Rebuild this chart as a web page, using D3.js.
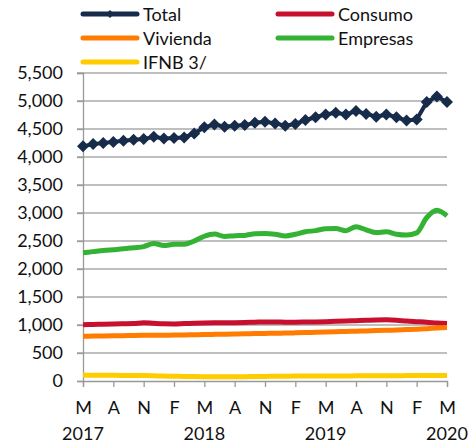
<!DOCTYPE html>
<html>
<head>
<meta charset="utf-8">
<script src="https://cdn.jsdelivr.net/npm/d3@7"></script>
<style>
  body { margin: 0; background: #fff; }
  svg { display: block; font-family: Lato, "Open Sans", sans-serif; }
</style>
</head>
<body>
<div id="chart"></div>
<script>
// months May 2017 .. May 2020
const months = d3.range(37);
const tickLabels = ['M', 'A', 'N', 'F', 'M', 'A', 'N', 'F', 'M', 'A', 'N', 'F', 'M'];
const yearLabels = [
    { idx: 0, label: '2017' },
    { idx: 12, label: '2018' },
    { idx: 24, label: '2019' },
    { idx: 36, label: '2020' }
];

const total = [4190, 4230, 4250, 4270, 4290, 4310, 4320, 4360, 4330, 4340, 4350, 4420, 4530,
    4580, 4540, 4560, 4570, 4610, 4630, 4600, 4560, 4590, 4660, 4710, 4760,
    4790, 4760, 4820, 4770, 4720, 4760, 4710, 4650, 4670, 4980, 5080, 4980];
const consumo = [1005, 1010, 1015, 1020, 1022, 1025, 1040, 1030, 1022, 1020, 1025, 1030, 1035,
    1038, 1040, 1042, 1045, 1050, 1055, 1055, 1050, 1050, 1052, 1055, 1060,
    1065, 1070, 1078, 1085, 1090, 1092, 1085, 1070, 1060, 1050, 1035, 1025];
const vivienda = [800, 802, 805, 808, 810, 812, 815, 817, 818, 820, 822, 825, 830,
    833, 836, 840, 843, 846, 850, 853, 856, 860, 865, 870, 875,
    880, 885, 890, 895, 900, 905, 910, 918, 925, 935, 945, 955];
const empresas = [2290, 2310, 2330, 2345, 2360, 2380, 2400, 2455, 2420, 2440, 2440, 2500, 2585,
    2625, 2580, 2595, 2600, 2630, 2635, 2620, 2590, 2620, 2665, 2685, 2720,
    2725, 2685, 2755, 2700, 2650, 2665, 2620, 2605, 2645, 2920, 3050, 2950];
const ifnb = [105, 104, 103, 102, 100, 98, 96, 92, 88, 85, 82, 80, 78,
    76, 75, 76, 78, 80, 82, 84, 86, 88, 88, 88, 90,
    90, 90, 92, 92, 92, 94, 95, 96, 96, 98, 98, 98];

const seriesNames = ['Total', 'Consumo', 'Vivienda', 'Empresas', 'IFNB 3/'];
const seriesColors = ['#172b4a', '#c8102e', '#ff7c00', '#34b233', '#ffcc00'];

const width = 476, height = 446;
const svg = d3.select('#chart').append('svg')
    .attr('width', width)
    .attr('height', height);

const x = d3.scaleLinear().domain([0, 36]).range([83, 447]);
const y = d3.scaleLinear().domain([0, 5500]).range([381, 73]);

// gridlines
svg.append('g')
    .selectAll('line')
    .data(d3.range(500, 5501, 500))
    .enter().append('line')
    .attr('x1', 77).attr('x2', 447)
    .attr('y1', d => y(d)).attr('y2', d => y(d))
    .attr('stroke', '#aaaaaa')
    .attr('stroke-width', 1.3);

// y axis
const yAxis = svg.append('g')
    .attr('transform', 'translate(83,0)')
    .call(d3.axisLeft(y).tickValues(d3.range(0, 5501, 500)).tickSize(6).tickPadding(14)
        .tickFormat(d3.format(',')));
yAxis.select('.domain').attr('stroke', '#999').attr('stroke-width', 1.3);
yAxis.selectAll('.tick line').attr('stroke', '#999').attr('stroke-width', 1.3);
yAxis.selectAll('.tick text').attr('font-size', 18).attr('fill', '#111')
    .attr('font-family', 'Lato, sans-serif');

// x axis
const xAxis = svg.append('g')
    .attr('transform', `translate(0,${y(0)})`)
    .call(d3.axisBottom(x).tickValues(d3.range(0, 37, 3)).tickSize(6)
        .tickFormat((d, i) => tickLabels[i]).tickPadding(14));
xAxis.select('.domain').attr('stroke', '#999').attr('stroke-width', 1.3);
xAxis.selectAll('.tick line').attr('stroke', '#999').attr('stroke-width', 1.3);
xAxis.selectAll('.tick text').attr('font-size', 18).attr('fill', '#111')
    .attr('font-family', 'Lato, sans-serif');

svg.append('g')
    .selectAll('text')
    .data(yearLabels)
    .enter().append('text')
    .attr('x', d => x(d.idx))
    .attr('y', 440)
    .attr('text-anchor', 'middle')
    .attr('font-size', 18)
    .attr('fill', '#111')
    .text(d => d.label);

// lines
const allSeries = [total, consumo, vivienda, empresas, ifnb];
const line = d3.line()
    .x((d, i) => x(months[i]))
    .y(d => y(d));
const smooth = d3.line()
    .x((d, i) => x(months[i]))
    .y(d => y(d))
    .curve(d3.curveMonotoneX);

allSeries.forEach((s, k) => {
    svg.append('path')
        .datum(s)
        .attr('fill', 'none')
        .attr('stroke', seriesColors[k])
        .attr('stroke-width', k === 0 ? 4 : 5)
        .attr('stroke-linejoin', 'round')
        .attr('d', k === 0 ? line : smooth);
});

// diamond markers on Total
const diamond = r => `M0,${-r}L${r},0L0,${r}L${-r},0Z`;
svg.append('g')
    .selectAll('path')
    .data(total)
    .enter().append('path')
    .attr('transform', (d, i) => `translate(${x(months[i])},${y(d)})`)
    .attr('d', diamond(6))
    .attr('fill', seriesColors[0]);

// legend
const legendPos = [
    { lx: 83, ly: 14 }, { lx: 278, ly: 14 },
    { lx: 83, ly: 38 }, { lx: 278, ly: 38 },
    { lx: 83, ly: 62 }
];
// legend order: Total, Consumo, Vivienda, Empresas, IFNB
const legend = svg.append('g');
seriesNames.forEach((name, k) => {
    const p = legendPos[k];
    legend.append('line')
        .attr('x1', p.lx).attr('x2', p.lx + 54)
        .attr('y1', p.ly).attr('y2', p.ly)
        .attr('stroke', seriesColors[k])
        .attr('stroke-width', 5)
        .attr('stroke-linecap', 'round');
    if (k === 0) {
        legend.append('path')
            .attr('transform', `translate(${p.lx + 27},${p.ly})`)
            .attr('d', diamond(4))
            .attr('fill', seriesColors[0]);
    }
    legend.append('text')
        .attr('x', p.lx + 60)
        .attr('y', p.ly + 6.5)
        .attr('font-size', 18)
        .attr('fill', '#111')
        .text(name);
});
</script>
</body>
</html>
